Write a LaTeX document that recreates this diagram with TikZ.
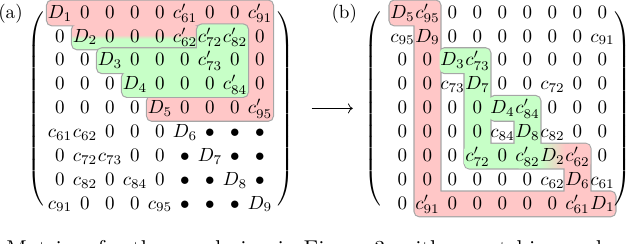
\documentclass[tikz,border=0pt]{standalone}
\usepackage{amsmath}
\usetikzlibrary{arrows.meta, positioning, matrix, backgrounds}
\colorlet{hlred}{red!22}
\colorlet{hlgreen}{green!22}
\pgfdeclareverticalshading{redovergreen}{100bp}{color(0bp)=(hlgreen); color(46bp)=(hlgreen);
  color(54bp)=(hlred); color(100bp)=(hlred)}
\pgfdeclarehorizontalshading{greentored}{100bp}{color(0bp)=(hlgreen); color(55bp)=(hlgreen);
  color(65bp)=(hlred); color(100bp)=(hlred)}
% block of cells: matrix, first row, first col, last row, last col
\newcommand{\blk}[5]{(#1-#2-#3.north west) rectangle (#1-#4-#5.south east)}
\newcommand{\tallrule}{\vcenter{\hbox{\rule{0pt}{96pt}}}}
\tikzset{
  cell/.style    ={minimum width=13.125pt, text height=9pt, text depth=3.53pt,
                   inner sep=0pt, anchor=center},
  mat/.style     ={matrix of math nodes, nodes={cell}, column sep=0pt,
                   row sep=0pt, inner sep=0pt},
  delim/.style   ={inner sep=0pt},
  tag/.style     ={font=\normalsize},
  hledge/.style  ={draw=black!35, line width=1.2pt, rounded corners=2.5pt},
  hlfill/.style  ={rounded corners=2.5pt},
  maparrow/.style={-{Computer Modern Rightarrow}, line width=0.4pt},
  capt/.style    ={font=\large, inner sep=0pt, anchor=north west},
}
\begin{document}
\begin{tikzpicture}[x=0.525pt, y=-0.525pt]
  \useasboundingbox (0,0) rectangle (640,243);
  \matrix[mat] (Ma) at (160,108.4) {
    D_1 & 0 & 0 & 0 & 0 & c'_{61} & 0 & 0 & c'_{91} \\
    0 & D_2 & 0 & 0 & 0 & c'_{62} & c'_{72} & c'_{82} & 0 \\
    0 & 0 & D_3 & 0 & 0 & 0 & c'_{73} & 0 & 0 \\
    0 & 0 & 0 & D_4 & 0 & 0 & 0 & c'_{84} & 0 \\
    0 & 0 & 0 & 0 & D_5 & 0 & 0 & 0 & c'_{95} \\
    c_{61} & c_{62} & 0 & 0 & 0 & D_6 & \bullet & \bullet & \bullet \\
    0 & c_{72} & c_{73} & 0 & 0 & \bullet & D_7 & \bullet & \bullet \\
    0 & c_{82} & 0 & c_{84} & 0 & \bullet & \bullet & D_8 & \bullet \\
    c_{91} & 0 & 0 & 0 & c_{95} & \bullet & \bullet & \bullet & D_9 \\
  };
  \matrix[mat] (Mb) at (502.5,108.4) {
    D_5 & c'_{95} & 0 & 0 & 0 & 0 & 0 & 0 & 0 \\
    c_{95} & D_9 & 0 & 0 & 0 & 0 & 0 & 0 & c_{91} \\
    0 & 0 & D_3 & c'_{73} & 0 & 0 & 0 & 0 & 0 \\
    0 & 0 & c_{73} & D_7 & 0 & 0 & c_{72} & 0 & 0 \\
    0 & 0 & 0 & 0 & D_4 & c'_{84} & 0 & 0 & 0 \\
    0 & 0 & 0 & 0 & c_{84} & D_8 & c_{82} & 0 & 0 \\
    0 & 0 & 0 & c'_{72} & 0 & c'_{82} & D_2 & c'_{62} & 0 \\
    0 & 0 & 0 & 0 & 0 & 0 & c_{62} & D_6 & c_{61} \\
    0 & c'_{91} & 0 & 0 & 0 & 0 & 0 & c'_{61} & D_1 \\
  };
  \node[delim, left=0pt of Ma]  (lpA) {$\delimiterfactor=1001\left(\tallrule\right.$};
  \node[delim, right=1pt of Ma] (rpA) {$\delimiterfactor=1001\left.\tallrule\right)$};
  \node[delim, left=3pt of Mb]  (lpB) {$\delimiterfactor=1001\left(\tallrule\right.$};
  \node[delim, right=-2pt of Mb] (rpB) {$\delimiterfactor=1001\left.\tallrule\right)$};
  \node[tag, base left=9.3pt of Ma-1-1] (tagA) {(a)};
  \node[tag, base left=13.6pt of Mb-1-1] (tagB) {(b)};
  \draw[maparrow] ([xshift=9pt]rpA.east) -- ([xshift=-6pt]lpB.west);
  \node[capt] (capt) at (6,240)
    {Matrices for the reordering in Figure 3, with a matching and};

  \begin{scope}[on background layer]
    % rims of every block first; the fills then hide the inner ones
    \draw[hledge] \blk{Ma}{1}{1}{1}{9} \blk{Ma}{1}{9}{5}{9} \blk{Ma}{5}{5}{5}{9}
      \blk{Ma}{2}{2}{2}{6};
    \draw[hledge] \blk{Mb}{1}{1}{1}{2} \blk{Mb}{1}{2}{9}{2} \blk{Mb}{9}{2}{9}{9}
      \blk{Mb}{7}{8}{9}{8} \blk{Mb}{7}{4}{7}{8} \blk{Mb}{3}{3}{3}{4}
      \blk{Mb}{3}{4}{7}{4} \blk{Mb}{5}{5}{5}{6} \blk{Mb}{5}{6}{7}{6};
    \fill[hlred, hlfill] \blk{Ma}{1}{1}{1}{9} \blk{Ma}{1}{9}{5}{9} \blk{Ma}{5}{5}{5}{9};
    \shade[hlfill, shading=redovergreen] \blk{Ma}{2}{2}{2}{6};
    \fill[hlred, hlfill] \blk{Mb}{1}{1}{1}{2} \blk{Mb}{1}{2}{9}{2} \blk{Mb}{9}{2}{9}{9}
      \blk{Mb}{7}{8}{9}{8};
    \shade[hlfill, shading=greentored] \blk{Mb}{7}{4}{7}{8};
    \fill[hlgreen, hlfill] \blk{Mb}{3}{3}{3}{4} \blk{Mb}{3}{4}{7}{4}
      \blk{Mb}{5}{5}{5}{6} \blk{Mb}{5}{6}{7}{6};
    % green blocks of (a) keep their rim over the red ones
    \draw[hledge] \blk{Ma}{2}{7}{4}{8} \blk{Ma}{3}{3}{3}{7} \blk{Ma}{4}{4}{4}{8};
    \fill[hlgreen, hlfill] \blk{Ma}{2}{7}{4}{8} \blk{Ma}{3}{3}{3}{7} \blk{Ma}{4}{4}{4}{8};
  \end{scope}
\end{tikzpicture}
\end{document}
